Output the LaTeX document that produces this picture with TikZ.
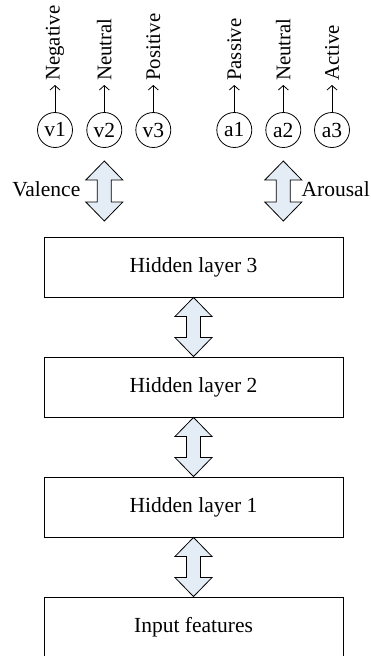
\documentclass[tikz,border=0pt]{standalone}
\usepackage{fontspec}
\setmainfont{Liberation Serif}
\usetikzlibrary{calc,arrows.meta}
\definecolor{arrfill}{HTML}{E4ECF6}
\newcommand{\dblarr}[2]{%
  \draw[bigarr] (#1) -- ($(#1)+(18.5,-19)$) -- ($(#1)+(7,-19)$) -- ($(#2)+(7,19)$) -- ($(#2)+(18.5,19)$) -- (#2)
    -- ($(#2)+(-18.5,19)$) -- ($(#2)+(-7,19)$) -- ($(#1)+(-7,-19)$) -- ($(#1)+(-18.5,-19)$) -- cycle;}
\begin{document}
\begin{tikzpicture}[x=1pt,y=1pt,
  every node/.style={font=\fontsize{21.5}{25}\selectfont},
  layerbox/.style={draw,line width=0.9pt,minimum width=299pt,minimum height=60pt,inner sep=0pt},
  unit/.style={draw,circle,line width=0.8pt,minimum size=35pt,inner sep=0pt},
  outlabel/.style={rotate=90,anchor=west,inner sep=0pt,font=\fontsize{20.8}{24}\selectfont},
  outarrow/.style={line width=0.8pt,-{Straight Barb[length=4.5pt,width=10pt,line width=0.8pt]}},
  bigarr/.style={draw,line width=0.8pt,fill=arrfill,line join=miter}]
\clip (0,0) rectangle (371,-656);
\fill[white] (0,0) rectangle (371,-656);
% layer boxes
\node[layerbox] (h3) at (193.5,-267) {Hidden layer 3};
\node[layerbox] (h2) at (193.5,-387) {Hidden layer 2};
\node[layerbox] (h1) at (193.5,-507) {Hidden layer 1};
\node[layerbox] (in) at (193.5,-627) {Input features};
% output units
\foreach \n/\x/\t in {v1/55/Negative,v2/104.3/Neutral,v3/153.3/Positive,a1/234.3/Passive,a2/283.3/Neutral,a3/332/Active}{
  \node[unit] (\n) at (\x,-130) {\n};
  \coordinate (\n tip) at (\x,-85);
  \node[outlabel] (\n lab) at (\x,-81) {\t};
  \draw[outarrow] (\n.north) -- (\n tip);
}
% valence / arousal arrows
\coordinate (vtop) at (104.3,-161);
\coordinate (vbot) at (104.3,-221);
\coordinate (atop) at (283.3,-161);
\coordinate (abot) at (283.3,-221);
\dblarr{vtop}{vbot}
\dblarr{atop}{abot}
\node[anchor=base east,inner sep=0pt] (vallab) at (80.5,-196.5) {Valence};
\node[anchor=base west,inner sep=0pt] (arolab) at (301.5,-196.5) {Arousal};
% between layers
\dblarr{h3.south}{h2.north}
\dblarr{h2.south}{h1.north}
\dblarr{h1.south}{in.north}
\end{tikzpicture}
\end{document}
